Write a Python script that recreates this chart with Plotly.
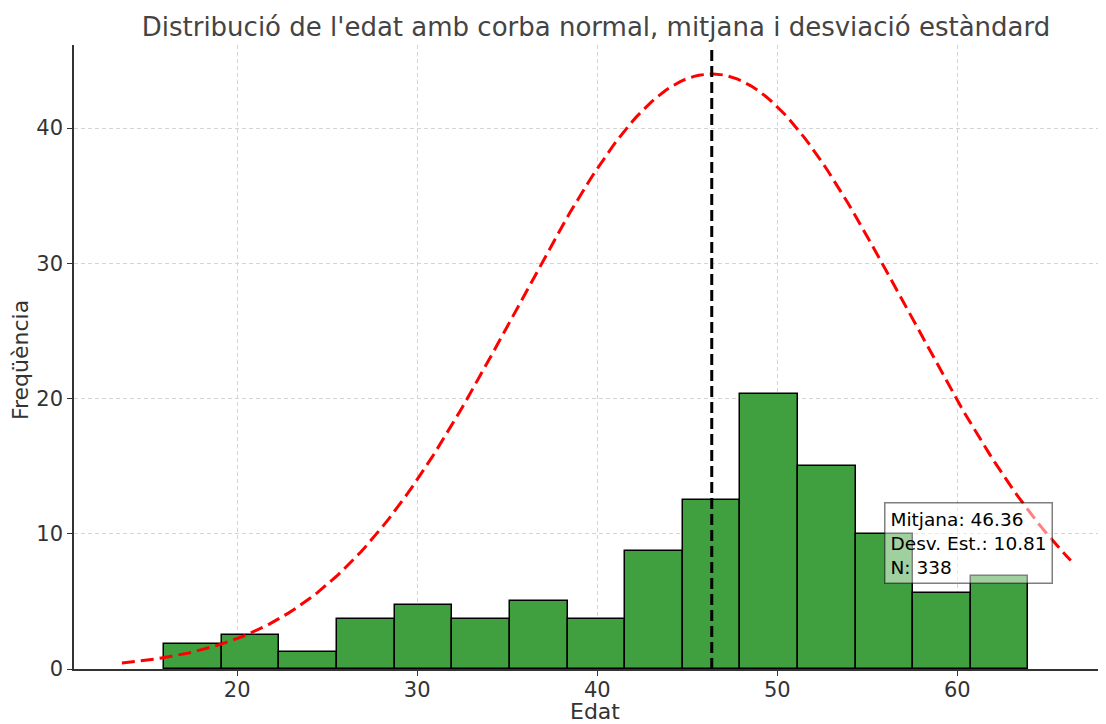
import numpy as np
import plotly.graph_objects as go

# histogram of ages
bin_start = 15.95
bin_width = 3.2
frequencies = [1.85, 2.5, 1.26, 3.7, 4.7, 3.7, 5.0, 3.7, 8.74, 12.5, 20.3, 15.0, 10.0, 5.6, 6.9]

mean_age = 46.36
std_age = 10.81
n_obs = 338
curve_peak = 44.0
curve_from = 13.6
curve_to = 66.3

centers = [bin_start + bin_width * (i + 0.5) for i in range(len(frequencies))]

# normal curve scaled to the drawn peak
curve_x = np.linspace(curve_from, curve_to, 200)
curve_y = curve_peak * np.exp(-((curve_x - mean_age) ** 2) / (2 * std_age ** 2))

fig = go.Figure()

fig.add_trace(go.Bar(
    x=centers,
    y=frequencies,
    width=bin_width,
    marker={"color": "#40a040", "line": {"color": "black", "width": 1.5}},
    showlegend=False,
))

fig.add_trace(go.Scatter(
    x=curve_x,
    y=curve_y,
    mode="lines",
    line={"color": "red", "width": 3, "dash": "13px,6px"},
    showlegend=False,
))

fig.add_trace(go.Scatter(
    x=[mean_age, mean_age],
    y=[0, 46.2],
    mode="lines",
    line={"color": "black", "width": 3, "dash": "11px,5px"},
    showlegend=False,
))

fig.add_annotation(
    x=55.94, y=12.37,
    xref="x", yref="y",
    xanchor="left", yanchor="top",
    align="left",
    showarrow=False,
    text=f"Mitjana: {mean_age:.2f}<br>Desv. Est.: {std_age:.2f}<br>N: {n_obs}",
    font={"family": "DejaVu Sans", "size": 18.5, "color": "black"},
    bgcolor="rgba(255,255,255,0.5)",
    bordercolor="rgba(0,0,0,0.5)",
    borderwidth=1.5,
    borderpad=5,
)

# axis titles as annotations so they sit where matplotlib put them
fig.add_annotation(
    text="Edat", xref="paper", yref="paper", x=0.505, y=0,
    xanchor="center", yanchor="middle", yshift=-42, showarrow=False,
    font={"size": 22, "color": "#333333"},
)
fig.add_annotation(
    text="Freqüència", xref="paper", yref="paper", x=0, y=0.495,
    xanchor="center", yanchor="middle", xshift=-54, textangle=-90, showarrow=False,
    font={"size": 22, "color": "#333333"},
)

axis_style = {
    "showline": True,
    "linecolor": "#333333",
    "linewidth": 1.5,
    "ticks": "outside",
    "ticklen": 5,
    "tickcolor": "#333333",
    "tickfont": {"size": 21, "color": "#333333"},
    "showgrid": True,
    "gridcolor": "#d4d4d4",
    "griddash": "4px,3px",
    "gridwidth": 1,
    "zeroline": False,
    "mirror": False,
    "automargin": False,
}

# page body has an 8px margin, so the figure is a bit smaller than the window
fig.update_layout(
    width=1098, height=716,
    margin={"l": 66, "r": 1, "t": 37, "b": 55},
    plot_bgcolor="white",
    paper_bgcolor="white",
    font={"family": "DejaVu Sans", "color": "#333333"},
    title={
        "text": "Distribució de l'edat amb corba normal, mitjana i desviació estàndard",
        "x": 0.5355, "xanchor": "center",
        "y": 0.9735, "yanchor": "middle",
        "font": {"size": 26, "color": "#444444"},
    },
    xaxis={**axis_style, "range": [10.94, 68.2], "tickvals": [20, 30, 40, 50, 60],
           "ticklabelstandoff": -4},
    yaxis={**axis_style, "range": [0, 46.14], "tickvals": [0, 10, 20, 30, 40]},
    bargap=0,
)

fig.write_html("out.html")
